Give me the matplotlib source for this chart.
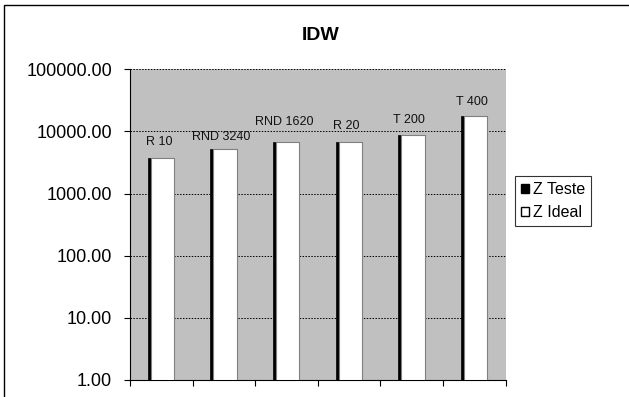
import numpy as np
import matplotlib
matplotlib.use("Agg")
from matplotlib import pyplot as plt
from matplotlib.patches import Rectangle, Patch

plt.rcParams['font.family'] = ['Liberation Sans', 'DejaVu Sans']

categories = ["R 10", "RND 3240", "RND 1620", "R 20", "T 200", "T 400"]
z_teste = [3800, 5300, 6700, 6700, 8700, 17400]
z_ideal = [3800, 5300, 6700, 6700, 8700, 17400]
y_ticks = [1, 10, 100, 1000, 10000, 100000]

# label nudges above bar tops (pixels)
label_dy = [15.5, 11.5, 20, 16.5, 15.5, 14.5]

fig = plt.figure(figsize=(6.29, 3.97), dpi=100)
fig.patch.set_facecolor("white")

# outer chart frame (cropped on right and bottom)
fig.patches.append(Rectangle((4 / 629, -0.1), 1.2, 1 - 5 / 397 + 0.1,
                             transform=fig.transFigure, fill=False,
                             edgecolor="black", linewidth=1.0))

ax = fig.add_axes([130 / 629, 1 - 380 / 397, (505.7 - 130) / 629, (380 - 69.3) / 397])
ax.set_facecolor("#c0c0c0")
ax.set_yscale("log")
ax.set_ylim(1, 100000)
ax.set_xlim(0, len(categories))

x = np.arange(len(categories)) + 0.5
ax.bar(x - 0.217, z_teste, width=0.422, bottom=1, align="edge",
       color="black", edgecolor="black", linewidth=0.5, zorder=2, label="Z Teste")
ax.bar(x - 0.17, z_ideal, width=0.375, bottom=1, align="edge",
       color="white", edgecolor="#808080", linewidth=0.8, zorder=3, label="Z Ideal")

for i, name in enumerate(categories):
    ax.annotate(name, (x[i] - 0.04, z_ideal[i]), xytext=(0, label_dy[i] * 0.72),
                textcoords="offset points", ha="center", va="center",
                fontsize=9, color="#111111", zorder=4)

ax.set_yticks(y_ticks)
ax.set_yticklabels([f"{v:.2f}" for v in y_ticks], fontsize=13)
ax.yaxis.set_minor_locator(matplotlib.ticker.NullLocator())
ax.set_xticks(np.arange(len(categories) + 1))
ax.set_xticklabels([])
ax.tick_params(axis="both", direction="out", length=4, width=0.8, color="black")
ax.tick_params(axis="y", pad=9)

ax.grid(axis="y", color="black", linestyle=(0, (1.5, 1.5)), linewidth=0.7)
ax.set_axisbelow(True)

for s in ["top", "right"]:
    ax.spines[s].set_visible(False)
ax.spines["left"].set_color("black")
ax.spines["bottom"].set_color("black")

fig.text(321 / 629, 1 - 35 / 397, "IDW", ha="center", va="center",
         fontsize=14, fontweight="bold")

handles = [Patch(facecolor="black", edgecolor="black"),
           Patch(facecolor="white", edgecolor="black")]
leg = fig.legend(handles, ["Z Teste", "Z Ideal"], loc="center left",
                 bbox_to_anchor=(515 / 629, 1 - 201 / 397), fontsize=11.5,
                 frameon=True, fancybox=False, handlelength=0.45, handleheight=0.45,
                 handletextpad=0.25, borderpad=0.4, labelspacing=0.5,
                 borderaxespad=0)
leg.get_frame().set_edgecolor("black")
leg.get_frame().set_linewidth(0.8)

fig.savefig("out.png", dpi=100)
